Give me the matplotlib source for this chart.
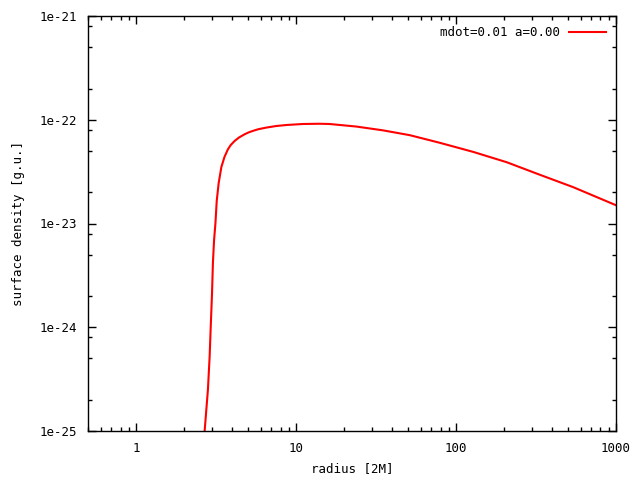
import matplotlib
matplotlib.use("Agg")
import numpy as np
import matplotlib.pyplot as plt
from matplotlib.ticker import LogLocator, NullFormatter, FixedLocator, FixedFormatter

# values
radius = [2.62, 2.68, 2.81, 2.88, 2.92, 2.98, 3.02, 3.07, 3.13, 3.19, 3.28, 3.41,
          3.57, 3.75, 3.9, 4.13, 4.4, 4.77, 5.1, 5.5, 5.8, 6.5, 7.5, 8.7, 11.0,
          14.0, 16.2, 23.8, 35.0, 51.4, 79.0, 128.0, 207.0, 334.0, 540.0, 1000.0]
sigma = [5e-26, 1.0e-25, 2.5e-25, 5.2e-25, 9.3e-25, 2.1e-24, 4.2e-24, 6.9e-24,
         1.0e-23, 1.65e-23, 2.45e-23, 3.5e-23, 4.4e-23, 5.2e-23, 5.7e-23,
         6.25e-23, 6.75e-23, 7.25e-23, 7.6e-23, 7.9e-23, 8.1e-23, 8.4e-23,
         8.7e-23, 8.9e-23, 9.1e-23, 9.15e-23, 9.1e-23, 8.6e-23, 7.9e-23,
         7.1e-23, 6.0e-23, 4.9e-23, 3.9e-23, 2.95e-23, 2.24e-23, 1.5e-23]

xticks = [1, 10, 100, 1000]
xticklabels = ["1", "10", "100", "1000"]
yticks = [1e-25, 1e-24, 1e-23, 1e-22, 1e-21]
yticklabels = ["1e-25", "1e-24", "1e-23", "1e-22", "1e-21"]

plt.rcParams['font.family'] = ['DejaVu Sans Mono']
plt.rcParams['font.size'] = 9

fig = plt.figure(figsize=(6.4, 4.8), dpi=100)
ax = fig.add_axes([88 / 640, 49 / 480, 528 / 640, 415 / 480])

ax.plot(radius, sigma, color='red', lw=1.5, label="mdot=0.01 a=0.00")
ax.set_xscale('log')
ax.set_yscale('log')
ax.set_xlim(0.5, 1000)
ax.set_ylim(1e-25, 1e-21)

ax.xaxis.set_major_locator(FixedLocator(xticks))
ax.xaxis.set_major_formatter(FixedFormatter(xticklabels))
ax.xaxis.set_minor_locator(LogLocator(base=10, subs=np.arange(2, 10)))
ax.xaxis.set_minor_formatter(NullFormatter())
ax.yaxis.set_major_locator(FixedLocator(yticks))
ax.yaxis.set_major_formatter(FixedFormatter(yticklabels))
ax.yaxis.set_minor_locator(LogLocator(base=10, subs=[2, 5, 8]))
ax.yaxis.set_minor_formatter(NullFormatter())

ax.tick_params(which='both', direction='in', top=True, right=True, width=1)
ax.tick_params(which='major', length=6, pad=8)
ax.tick_params(which='minor', length=3)
for s in ax.spines.values():
    s.set_linewidth(1)

ax.set_xlabel("radius [2M]", labelpad=5)
ax.set_ylabel("surface density [g.u.]", labelpad=10)

ax.legend(loc='upper right', frameon=False, markerfirst=False, handlelength=3.0,
          handletextpad=0.7, borderaxespad=0.4)

fig.savefig("out.png", dpi=100)
